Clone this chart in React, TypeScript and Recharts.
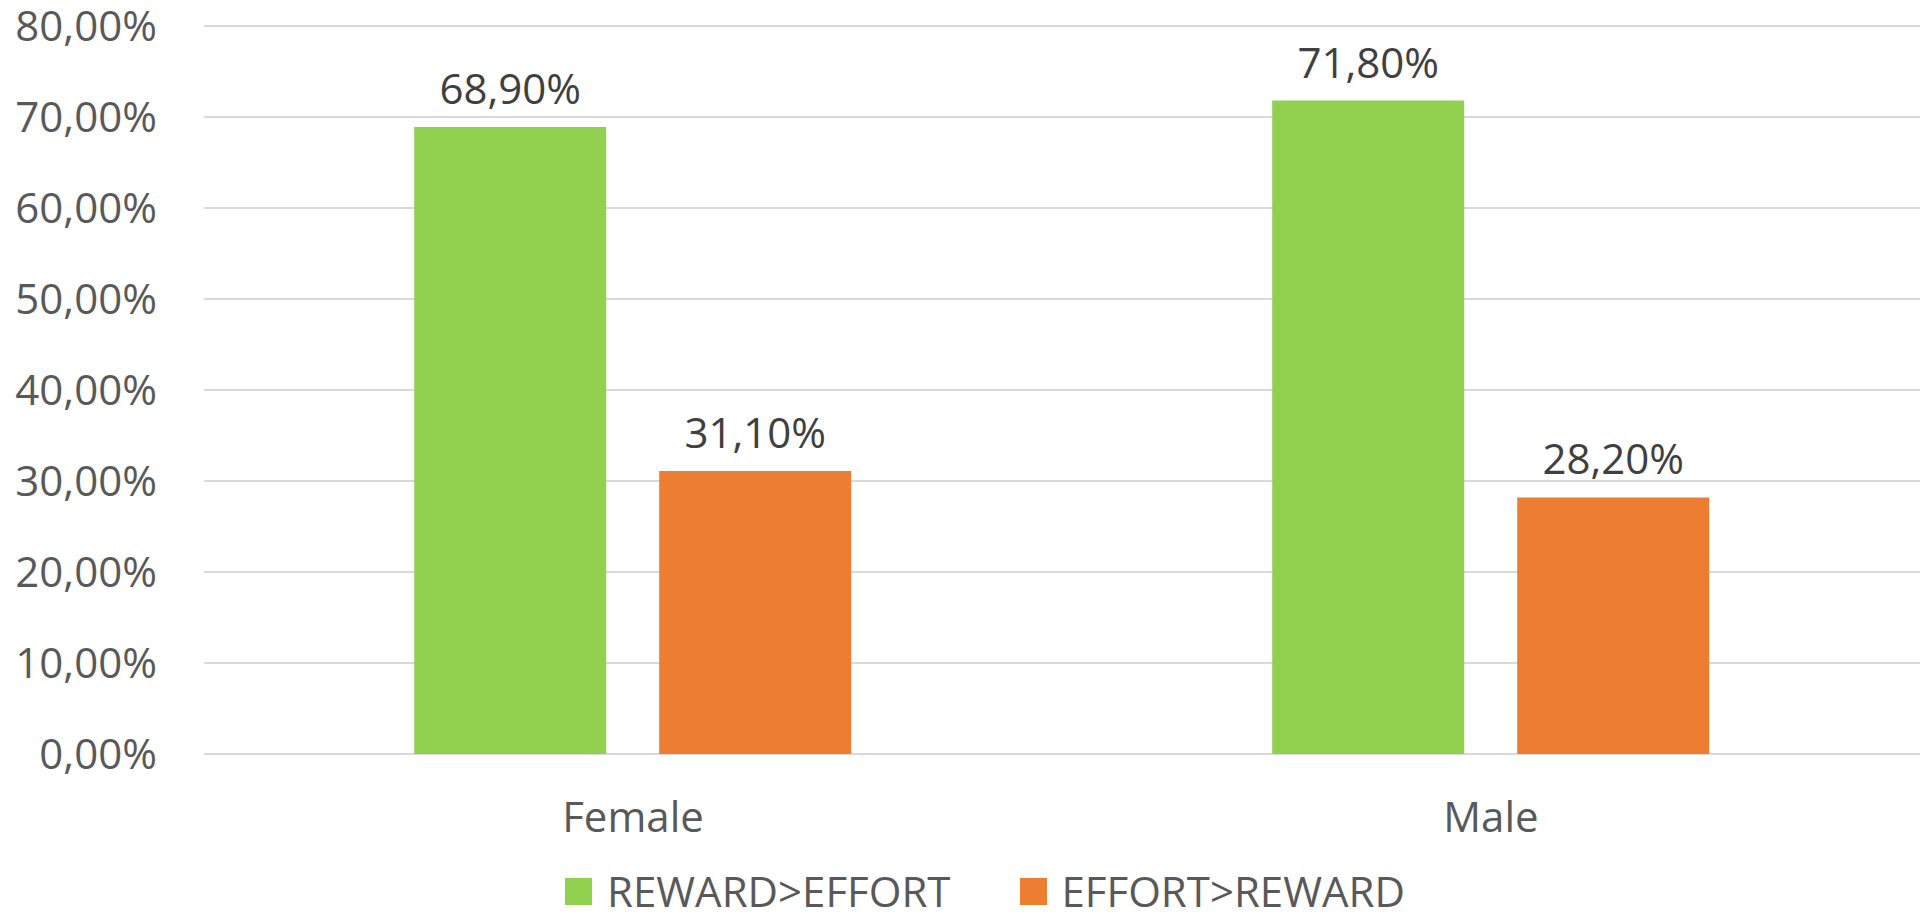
import { BarChart, Bar, XAxis, YAxis, CartesianGrid, Legend, LabelList } from 'recharts';

const categories = ['Female', 'Male'];
const rewardOverEffort = [68.9, 71.8];
const effortOverReward = [31.1, 28.2];
const yTicks = [0, 10, 20, 30, 40, 50, 60, 70, 80];

const seriesKeys = ['reward', 'effort'];
const seriesNames = { reward: 'REWARD>EFFORT', effort: 'EFFORT>REWARD' };
const colors = { reward: '#92d050', effort: '#ed7d31' };

const chartData = categories.map((name, i) => ({
  name,
  reward: rewardOverEffort[i],
  effort: effortOverReward[i],
}));

const FONT = '"Open Sans", sans-serif';
const pct = (v: number) => `${v.toFixed(2).replace('.', ',')}%`;

function LegendContent({ payload }: any) {
  // keep series order (recharts sorts legend items by name)
  const items = [...(payload || [])].sort(
    (a: any, b: any) => seriesKeys.indexOf(a.dataKey) - seriesKeys.indexOf(b.dataKey)
  );
  return (
    <div
      style={{
        width: 1900,
        height: 30,
        display: 'flex',
        justifyContent: 'center',
        alignItems: 'center',
        paddingLeft: 54,
        boxSizing: 'border-box',
        fontFamily: FONT,
      }}
    >
      {items.map((entry: any, i: number) => (
        <div key={`legend-${i}`} style={{ display: 'flex', alignItems: 'center', marginRight: i === 0 ? 69 : 0 }}>
          <div style={{ width: 27, height: 27, background: entry.color, marginRight: 15 }} />
          <span style={{ fontSize: 42, lineHeight: '30px', color: '#595959' }}>{entry.value}</span>
        </div>
      ))}
    </div>
  );
}

export default function App() {
  return (
    <BarChart
      width={1912}
      height={900}
      data={chartData}
      margin={{ top: 18, right: 0, bottom: 30, left: 0 }}
      barCategoryGap="24.5%"
      barGap={53}
      style={{ fontFamily: FONT }}
    >
      <CartesianGrid vertical={false} stroke="#d9d9d9" strokeWidth={2} />
      <XAxis
        dataKey="name"
        height={124}
        axisLine={false}
        tickLine={false}
        tickSize={0}
        tickMargin={48}
        tick={{ fill: '#595959', fontSize: 42, fontFamily: FONT }}
      />
      <YAxis
        width={196}
        domain={[0, 80]}
        ticks={yTicks}
        interval={0}
        axisLine={false}
        tickLine={false}
        tickSize={0}
        tickMargin={47}
        tickFormatter={pct}
        tick={{ fill: '#595959', fontSize: 42, fontFamily: FONT }}
      />
      <Legend
        verticalAlign="middle"
        align="center"
        layout="horizontal"
        wrapperStyle={{ top: 868, left: 0 }}
        content={<LegendContent />}
      />
      <Bar dataKey="reward" name={seriesNames.reward} fill={colors.reward} isAnimationActive={false}>
        <LabelList
          dataKey="reward"
          position="top"
          offset={23}
          formatter={(v: any) => pct(Number(v))}
          style={{ fill: '#404040', fontSize: 42, fontFamily: FONT }}
        />
      </Bar>
      <Bar dataKey="effort" name={seriesNames.effort} fill={colors.effort} isAnimationActive={false}>
        <LabelList
          dataKey="effort"
          position="top"
          offset={23}
          formatter={(v: any) => pct(Number(v))}
          style={{ fill: '#404040', fontSize: 42, fontFamily: FONT }}
        />
      </Bar>
    </BarChart>
  );
}
